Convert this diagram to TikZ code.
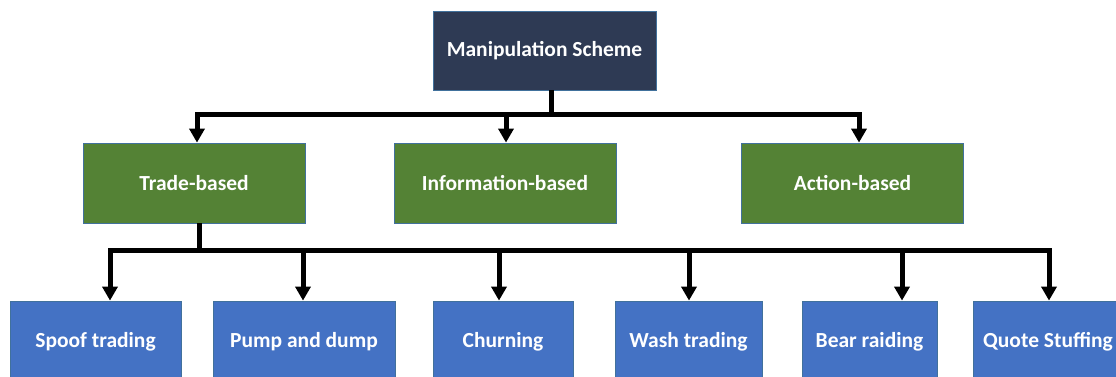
\documentclass[tikz,border=0pt]{standalone}
\usepackage{fontspec}
\setmainfont{Carlito}
\usetikzlibrary{arrows.meta}
\tikzset{>={Triangle[width=15pt,length=14pt]}}
\usetikzlibrary{calc}
\definecolor{schemenavy}{HTML}{2E3A54}
\definecolor{groupgreen}{HTML}{548235}
\definecolor{leafblue}{HTML}{4472C4}
\definecolor{edgeblue}{HTML}{41719C}
\tikzset{ box/.style={draw=edgeblue,line width=0.8pt,text=white,inner sep=0pt,font=\fontsize{21.5}{26}\selectfont\bfseries},
  rootbox/.style={box,fill=schemenavy,minimum width=223pt,minimum height=79pt},
  groupbox/.style={box,fill=groupgreen,minimum width=222pt,minimum height=80pt},
  leafbox/.style={box,fill=leafblue,minimum height=82pt},
  link/.style={line width=5pt} }

\begin{document}
\begin{tikzpicture}[x=1pt,y=-1pt]
  \useasboundingbox[fill=white] (0,0) rectangle (1116,377);
  % levels
  \node[rootbox] (root) at (544.5,50.5) {Manipulation Scheme};
  \node[groupbox] (trade) at (194,183) {Trade-based};
  \node[groupbox] (info) at (505,183) {Information-based};
  \node[groupbox] (action) at (852.5,183) {Action-based};
  \node[leafbox,minimum width=171pt] (spoof) at (95.5,342) {Spoof trading};
  \node[leafbox,minimum width=182pt] (pump) at (304,342) {Pump and dump};
  \node[leafbox,minimum width=140pt] (churn) at (503,342) {Churning};
  \node[leafbox,minimum width=147pt] (wash) at (688.5,342) {Wash trading};
  \node[leafbox,minimum width=135pt] (bear) at (869.5,342) {Bear raiding};
  \node[leafbox,minimum width=150pt] (quote) at (1048,342) {Quote Stuffing};
  % upper bus
  \coordinate (rootTap) at (551,115);
  \coordinate (tradeIn) at (197,115);
  \coordinate (infoIn) at (506,115);
  \coordinate (actionIn) at (859,115);
  \draw[link] (root.south -| rootTap) -- (rootTap);
  \draw[link,<->] (trade.north -| tradeIn) -- (tradeIn) -- (actionIn) -- (action.north -| actionIn);
  \draw[link,->] (infoIn) -- (info.north -| infoIn);
  % lower bus
  \coordinate (tradeTap) at (199,250);
  \coordinate (spoofIn) at (110,250);
  \coordinate (pumpIn) at (303,250);
  \coordinate (churnIn) at (499,250);
  \coordinate (washIn) at (689,250);
  \coordinate (bearIn) at (902,250);
  \coordinate (quoteIn) at (1049,250);
  \draw[link] (trade.south -| tradeTap) -- (tradeTap);
  \draw[link,<->] (spoof.north -| spoofIn) -- (spoofIn) -- (quoteIn) -- (quote.north -| quoteIn);
  \draw[link,->] (pumpIn) -- (pump.north -| pumpIn);
  \draw[link,->] (churnIn) -- (churn.north -| churnIn);
  \draw[link,->] (washIn) -- (wash.north -| washIn);
  \draw[link,->] (bearIn) -- (bear.north -| bearIn);
\end{tikzpicture}
\end{document}
